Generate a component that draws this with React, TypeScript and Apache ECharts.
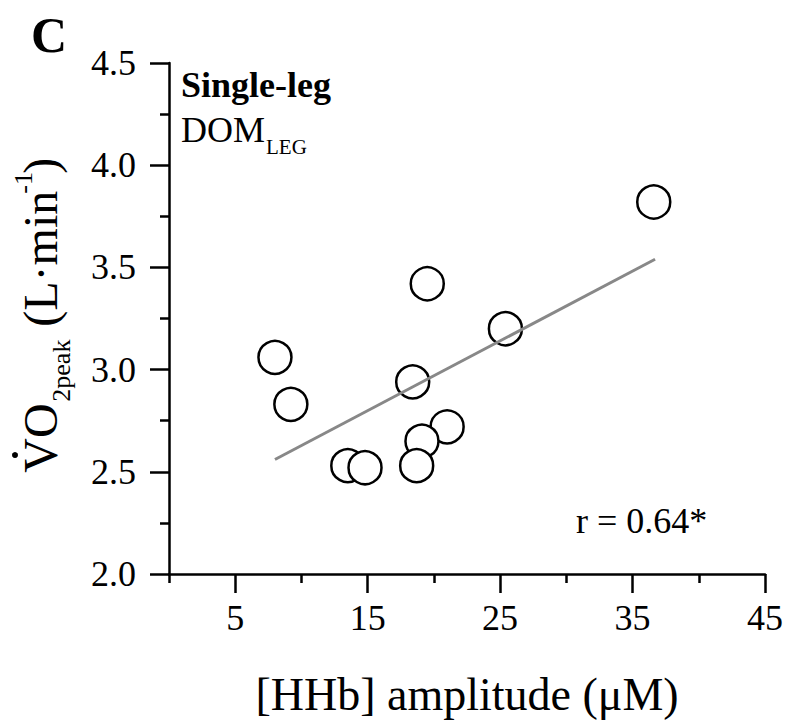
import React, { useEffect, useRef } from "react";
import * as echarts from "echarts";

const hhbAmplitude = [36.6, 19.5, 25.4, 8.0, 9.2, 18.4, 21.0, 19.1, 13.5, 14.8, 18.7];
const vo2peak = [3.82, 3.42, 3.2, 3.06, 2.83, 2.94, 2.72, 2.65, 2.53, 2.52, 2.53];
const fitX = [8.0, 36.7];
const fitY = [2.56, 3.54];
const xMajorTicks = [5, 15, 25, 35, 45];
const xMinorTicks = [0, 10, 20, 30, 40];
const yRange = [2.0, 4.5];
const yStep = 0.5;

const FONT = "'Liberation Serif', 'Times New Roman', serif";
const C = 0.3375; // central-baseline offset (em) for this font

export default function App() {
  const ref = useRef<HTMLDivElement>(null);
  useEffect(() => {
    document.body.style.margin = "0";
    const chart = echarts.init(ref.current!, null, { renderer: "svg" });
    const axisLine = { lineStyle: { color: "#000", width: 2.5 } };
    const txt = (text: string, x: number, baseline: number, fs: number, bold = false, align = "left") => ({
      type: "text",
      x,
      y: baseline - C * fs,
      style: {
        text,
        fontFamily: FONT,
        fontSize: fs,
        fontWeight: bold ? "bold" : "normal",
        fill: "#000",
        textAlign: align,
        textVerticalAlign: "middle",
      },
    });
    const option: any = {
      animation: false,
      backgroundColor: "#fff",
      grid: {
        left: 169,
        right: 21,
        top: 63,
        bottom: 150,
        containLabel: false,
        outerBoundsMode: "none",
      },
      xAxis: [
        {
          type: "value",
          min: 0,
          max: 45,
          position: "bottom",
          axisLine: { ...axisLine, onZero: false },
          axisTick: {
            show: true,
            inside: false,
            length: 19,
            lineStyle: { color: "#000", width: 2.5 },
            customValues: xMajorTicks,
          },
          axisLabel: {
            customValues: xMajorTicks,
            fontFamily: FONT,
            fontSize: 36,
            color: "#000",
            margin: 26,
          },
          splitLine: { show: false },
        },
        {
          type: "value",
          min: 0,
          max: 45,
          position: "bottom",
          offset: 0,
          axisLine: { show: false, onZero: false },
          axisTick: {
            show: true,
            inside: false,
            length: 9,
            lineStyle: { color: "#000", width: 2.5 },
            customValues: xMinorTicks,
          },
          axisLabel: { show: false, customValues: xMinorTicks },
          splitLine: { show: false },
        },
      ],
      yAxis: {
        type: "value",
        min: yRange[0],
        max: yRange[1],
        interval: yStep,
        axisLine: { ...axisLine, show: true, onZero: false },
        axisTick: { show: true, inside: false, length: 19, lineStyle: { color: "#000", width: 2.5 } },
        minorTick: { show: true, splitNumber: 2, length: 9, lineStyle: { color: "#000", width: 2.5 } },
        axisLabel: {
          fontFamily: FONT,
          fontSize: 36,
          color: "#000",
          margin: 33,
          formatter: (v: number) => v.toFixed(1),
        },
        splitLine: { show: false },
        minorSplitLine: { show: false },
      },
      series: [
        {
          type: "scatter",
          xAxisIndex: 0,
          data: hhbAmplitude.map((x, i) => [x, vo2peak[i]]),
          symbol: "circle",
          symbolSize: 33,
          itemStyle: { color: "#fff", borderColor: "#000", borderWidth: 2.5, opacity: 1 },
          z: 2,
        },
        {
          type: "line",
          xAxisIndex: 0,
          data: fitX.map((x, i) => [x, fitY[i]]),
          showSymbol: false,
          symbol: "none",
          lineStyle: { color: "#888", width: 3 },
          z: 3,
        },
      ],
      graphic: [
        txt("C", 31, 52, 50, true),
        txt("Single-leg", 181, 97, 36, true),
        txt("DOM", 181, 142, 36),
        txt("LEG", 266, 154, 21),
        txt("r = 0.64*", 576, 533, 36),
        txt("[HHb] amplitude (\u03bcM)", 467, 710, 46, false, "center"),
        {
          type: "group",
          x: 57,
          y: 472.7,
          rotation: Math.PI / 2,
          children: [
            txt("VO", 0, 0, 48),
            txt("2peak", 71, 13, 26),
            txt("(L\u00b7min", 146, 0, 48),
            txt("-1", 279, -25, 26),
            txt(")", 299, 0, 48),
            { type: "circle", shape: { cx: 17.7, cy: -42, r: 3 }, style: { fill: "#000" } },
          ],
        },
      ],
    };
    chart.setOption(option);
    return () => chart.dispose();
  }, []);
  return <div ref={ref} style={{ position: "fixed", left: 0, top: 0, width: 786, height: 724 }} />;
}
